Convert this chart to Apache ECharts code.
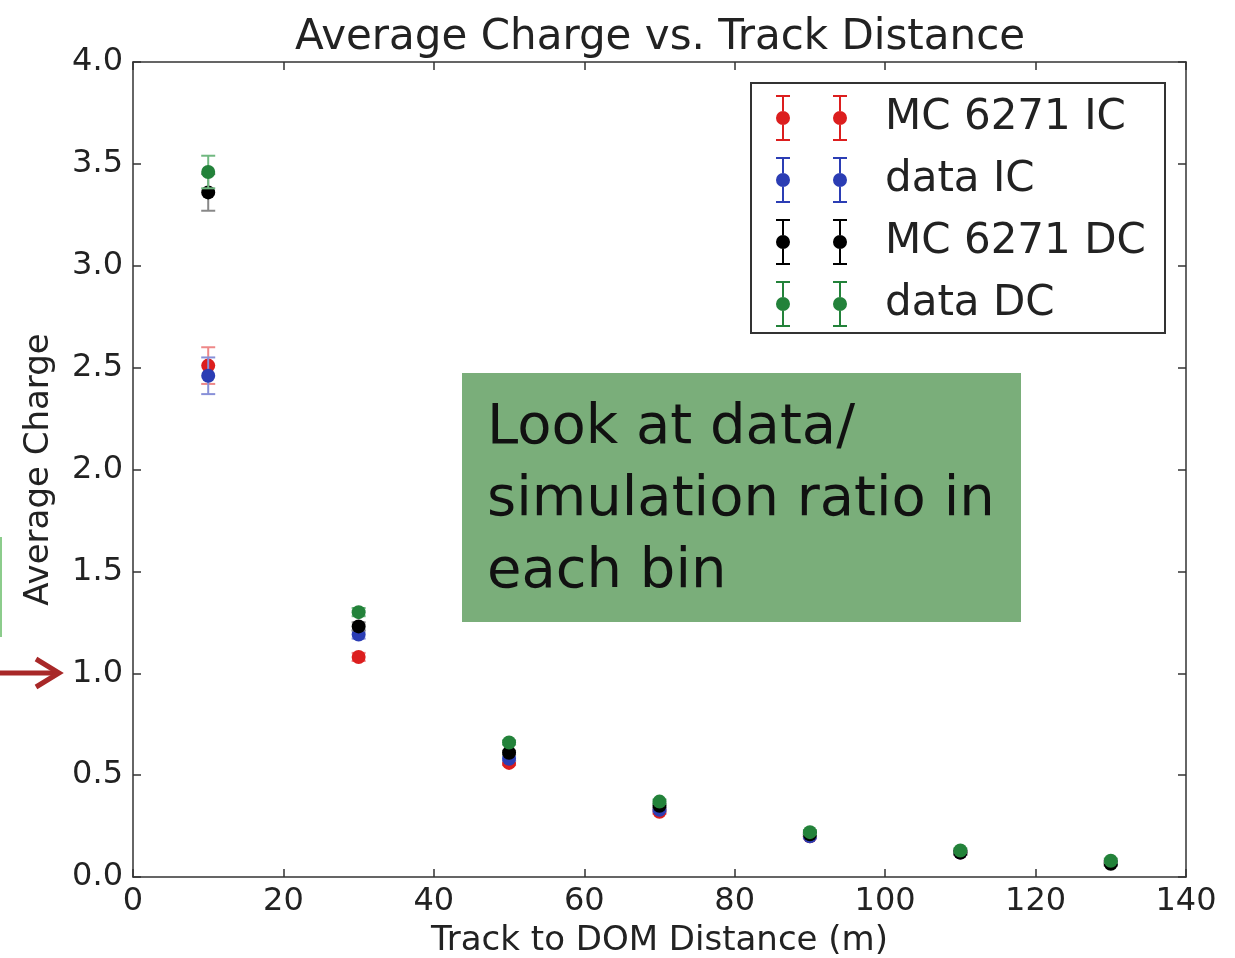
<!DOCTYPE html>
<html>
<head>
<meta charset="utf-8">
<script src="https://cdn.jsdelivr.net/npm/echarts@6/dist/echarts.min.js"></script>
<style>
html,body{margin:0;padding:0;background:#fff;}
#chart{width:1235px;height:958px;}
</style>
</head>
<body>
<div id="chart"></div>
<script>
// ---- data ----
const distances = [10, 30, 50, 70, 90, 110, 130];
const mcIC      = [2.51, 1.08, 0.56, 0.32, 0.20, 0.12, 0.07];
const mcICErr   = [0.09, 0.02, 0.01, 0.01, 0.01, 0.01, 0.01];
const dataIC    = [2.46, 1.19, 0.58, 0.33, 0.20, 0.12, 0.07];
const dataICErr = [0.09, 0.02, 0.01, 0.01, 0.01, 0.01, 0.01];
const mcDC      = [3.36, 1.23, 0.61, 0.35, 0.21, 0.12, 0.065];
const mcDCErr   = [0.09, 0.02, 0.01, 0.01, 0.01, 0.01, 0.01];
const dataDC    = [3.46, 1.30, 0.66, 0.37, 0.22, 0.13, 0.08];
const dataDCErr = [0.08, 0.02, 0.01, 0.01, 0.01, 0.01, 0.01];
const seriesNames = ['MC 6271 IC', 'data IC', 'MC 6271 DC', 'data DC'];
const titleText = 'Average Charge vs. Track Distance';
const xName = 'Track to DOM Distance (m)';
const yName = 'Average Charge';
const boxText = 'Look at data/\nsimulation ratio in\neach bin';

const colors    = ['#dc1e1e', '#2b3db4', '#000000', '#23823a'];
const barColors = ['#ee8888', '#8890d8', '#888888', '#70b880'];

const chart = echarts.init(document.getElementById('chart'), null, {renderer: 'canvas'});
const FONT = 'DejaVu Sans';
const TXT = '#222';

function pair(ys) { return distances.map((x, i) => [x, ys[i]]); }
function tri(ys, es) { return distances.map((x, i) => [x, ys[i], es[i]]); }

// legend icon: two error bars with markers
function iconPath() {
  let p = '';
  [7, 64].forEach(cx => {
    p += `M${cx-7} 0 H${cx+7} V2 H${cx-7} Z `;
    p += `M${cx-1} 2 H${cx+1} V16 H${cx-1} Z `;
    p += `M${cx-7} 44 H${cx+7} V46 H${cx-7} Z `;
    p += `M${cx-1} 30 H${cx+1} V44 H${cx-1} Z `;
    p += `M${cx-7} 23 A7 7 0 1 1 ${cx+7} 23 A7 7 0 1 1 ${cx-7} 23 Z `;
  });
  return 'path://' + p;
}

const valueSets = [[mcIC, mcICErr], [dataIC, dataICErr], [mcDC, mcDCErr], [dataDC, dataDCErr]];
const series = [];
valueSets.forEach((vs, k) => {
  series.push({
    name: seriesNames[k] + ' err',
    type: 'custom',
    z: 2 + k * 2,
    silent: true,
    data: tri(vs[0], vs[1]),
    renderItem: function (params, api) {
      const x = api.value(0), y = api.value(1), e = api.value(2);
      const top = api.coord([x, y + e]);
      const bot = api.coord([x, y - e]);
      const st = {stroke: barColors[k], lineWidth: 2};
      return {
        type: 'group',
        children: [
          {type: 'line', shape: {x1: top[0], y1: top[1], x2: bot[0], y2: bot[1]}, style: st},
          {type: 'line', shape: {x1: top[0]-7, y1: top[1], x2: top[0]+7, y2: top[1]}, style: st},
          {type: 'line', shape: {x1: bot[0]-7, y1: bot[1], x2: bot[0]+7, y2: bot[1]}, style: st}
        ]
      };
    }
  });
  series.push({
    name: seriesNames[k],
    type: 'scatter',
    z: 3 + k * 2,
    symbol: 'circle',
    symbolSize: 14,
    itemStyle: {color: colors[k], opacity: 1},
    data: pair(vs[0])
  });
});

const axisLineStyle = {color: '#333', width: 1.5};

const option = {
  backgroundColor: '#fff',
  animation: false,
  title: {
    text: titleText,
    left: 660,
    textAlign: 'center',
    top: 17,
    padding: 0,
    textStyle: {fontFamily: FONT, fontSize: 42, fontWeight: 'normal', color: TXT}
  },
  legend: {
    data: seriesNames.map((n, k) => ({name: n, icon: iconPath(), itemStyle: {color: colors[k]}})),
    orient: 'vertical',
    left: 776,
    top: 95,
    padding: 0,
    itemWidth: 71,
    itemHeight: 46,
    itemGap: 16,
    selectedMode: false,
    textStyle: {fontFamily: FONT, fontSize: 42, color: TXT, padding: [0, 0, 0, 33]}
  },
  grid: {left: 133, right: 49, top: 62, bottom: 81, containLabel: false, outerBoundsMode: 'none'},
  xAxis: [{
    type: 'value', min: 0, max: 140, interval: 20,
    name: xName, nameLocation: 'middle', nameGap: 47,
    nameTextStyle: {fontFamily: FONT, fontSize: 34, color: TXT},
    axisLine: {show: true, onZero: false, lineStyle: axisLineStyle},
    axisTick: {show: true, inside: true, length: 8, lineStyle: axisLineStyle},
    axisLabel: {fontFamily: FONT, fontSize: 32, color: TXT, margin: 9},
    splitLine: {show: false}
  }, {
    type: 'value', min: 0, max: 140, interval: 20, position: 'top',
    axisLine: {show: true, onZero: false, lineStyle: axisLineStyle},
    axisTick: {show: true, inside: true, length: 8, lineStyle: axisLineStyle},
    axisLabel: {show: false},
    splitLine: {show: false}
  }],
  yAxis: [{
    type: 'value', min: 0, max: 4, interval: 0.5,
    name: yName, nameLocation: 'middle', nameGap: 77, nameRotate: 90,
    nameTextStyle: {fontFamily: FONT, fontSize: 34, color: TXT},
    axisLine: {show: true, onZero: false, lineStyle: axisLineStyle},
    axisTick: {show: true, inside: true, length: 8, lineStyle: axisLineStyle},
    axisLabel: {fontFamily: FONT, fontSize: 32, color: TXT, margin: 10,
      formatter: v => v.toFixed(1)},
    splitLine: {show: false}
  }, {
    type: 'value', min: 0, max: 4, interval: 0.5, position: 'right',
    axisLine: {show: true, onZero: false, lineStyle: axisLineStyle},
    axisTick: {show: true, inside: true, length: 8, lineStyle: axisLineStyle},
    axisLabel: {show: false},
    splitLine: {show: false}
  }],
  graphic: [
    {type: 'rect', z: 1, shape: {x: 751, y: 83, width: 414, height: 250},
     style: {fill: '#fff', stroke: '#333', lineWidth: 2}},
    {type: 'rect', z: 1, shape: {x: 462, y: 373, width: 559, height: 249},
     style: {fill: '#7aae7a'}},
    {type: 'text', z: 2, x: 487, y: 392,
     style: {text: boxText, fontFamily: FONT, fontSize: 56, lineHeight: 72,
             fill: '#111', align: 'left', verticalAlign: 'top'}},
    {type: 'polyline', z: 2, shape: {points: [[0, 673], [56, 673]]},
     style: {stroke: '#a82828', lineWidth: 5, fill: null}},
    {type: 'polyline', z: 2, shape: {points: [[36, 659], [59, 673], [36, 687]]},
     style: {stroke: '#a82828', lineWidth: 5, fill: null, lineJoin: 'miter'}},
    {type: 'line', z: 2, shape: {x1: 1, y1: 537, x2: 1, y2: 637},
     style: {stroke: '#8ccc8c', lineWidth: 2}}
  ],
  series: series
};
chart.setOption(option);
</script>
</body>
</html>
